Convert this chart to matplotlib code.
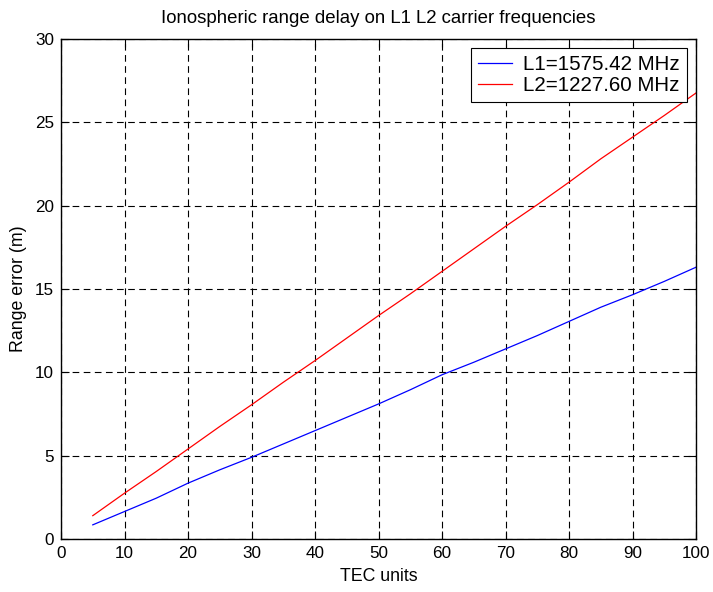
import matplotlib
matplotlib.use('Agg')
import matplotlib.pyplot as plt
import numpy as np

plt.rcParams['font.family'] = ['Liberation Sans', 'DejaVu Sans']

tec = [5, 10, 15, 20, 25, 30, 35, 40, 45, 50, 55, 60, 65, 70, 75, 80, 85, 90, 95, 100]
l1_err = [0.85, 1.65, 2.45, 3.35, 4.15, 4.9, 5.7, 6.5, 7.3, 8.1, 8.95, 9.85, 10.6, 11.4,
          12.2, 13.05, 13.9, 14.65, 15.45, 16.3]
l2_err = [1.4, 2.75, 4.05, 5.4, 6.75, 8.05, 9.4, 10.7, 12.05, 13.4, 14.7, 16.05, 17.4,
          18.75, 20.05, 21.4, 22.8, 24.1, 25.4, 26.75]
labels = ['L1=1575.42 MHz', 'L2=1227.60 MHz']

fs = 12.3

fig = plt.figure(figsize=(7.13, 5.92), dpi=100)
ax = fig.add_axes([0.0856, 0.0895, 0.8906, 0.845])

ax.plot(tec, l1_err, color='blue', lw=0.9, label=labels[0])
ax.plot(tec, l2_err, color='red', lw=0.9, label=labels[1])

ax.set_xlim(0, 100)
ax.set_ylim(0, 30)
ax.set_xticks(np.arange(0, 101, 10))
ax.set_yticks(np.arange(0, 31, 5))
ax.grid(True, color='black', linestyle=(0, (6, 4)), linewidth=0.8)
ax.tick_params(direction='in', top=True, right=True, labelsize=fs, length=6, pad=5)
for s in ax.spines.values():
    s.set_linewidth(1.0)

ax.set_xlabel('TEC units', fontsize=fs + 0.5, labelpad=5)
ax.set_ylabel('Range error (m)', fontsize=fs + 0.5, labelpad=6)
ax.set_title('Ionospheric range delay on L1 L2 carrier frequencies', fontsize=13.4, pad=11)

# matlab-like legend box
leg = ax.legend(loc='upper right', fontsize=14.8, fancybox=False, framealpha=1,
                edgecolor='black', handlelength=1.65, borderpad=0.35, labelspacing=0.1,
                handletextpad=0.55, borderaxespad=0.45)
leg.get_frame().set_linewidth(0.8)

fig.savefig('out.png', dpi=100)
